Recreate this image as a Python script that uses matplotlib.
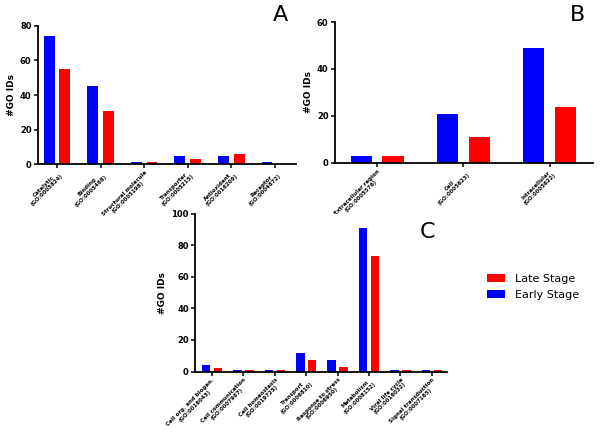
import matplotlib
matplotlib.use('Agg')
import matplotlib.pyplot as plt
import numpy as np
from matplotlib.patches import Patch

# Panel A: molecular function
a_labels = ["Catalytic\n(GO:0003824)", "Binding\n(GO:0005488)",
            "Structural molecule\n(GO:0005198)", "Transporter\n(GO:0005215)",
            "Antioxidant\n(GO:0016209)", "Receptor\n(GO:0004872)"]
a_early = [74, 45, 1, 5, 5, 1]
a_late = [55, 31, 1, 3, 6, 0]

# Panel B: cellular component
b_labels = ["Extracellular region\n(GO:0005576)", "Cell\n(GO:0005623)",
            "Intracellular\n(GO:0005622)"]
b_early = [3, 21, 49]
b_late = [3, 11, 24]

# Panel C: biological process
c_labels = ["Cell org. and biogen.\n(GO:0016043)", "Cell communication\n(GO:0007987)",
            "Cell homeostasis\n(GO:0019725)", "Transport\n(GO:0006810)",
            "Response to stress\n(GO:0006950)", "Metabolism\n(GO:0008152)",
            "Viral life cycle\n(GO:0016032)", "Signal transduction\n(GO:0007165)"]
c_early = [4, 1, 1, 12, 7, 91, 1, 1]
c_late = [2, 1, 1, 7, 3, 73, 1, 1]

BLUE = '#0000ff'
RED = '#ff0000'

fig = plt.figure(figsize=(6, 4.32), dpi=100)


def draw_panel(rect, labels, early, late, ymax, yticks, xlim, width, off, letter, letter_xy):
    ax = fig.add_axes(rect)
    x = np.arange(len(labels))
    ax.bar(x - off, early, width=width, color=BLUE)
    ax.bar(x + off, late, width=width, color=RED)
    ax.set_xlim(*xlim)
    ax.set_ylim(0, ymax)
    ax.set_yticks(yticks)
    ax.set_xticks(x)
    ax.set_xticklabels(labels, rotation=45, ha='right', rotation_mode='anchor',
                       fontsize=4.0, multialignment='center', fontweight='bold',
                       linespacing=1.1)
    for t in ax.get_yticklabels():
        t.set_fontsize(6)
        t.set_fontweight('bold')
    ax.set_ylabel('#GO IDs', fontsize=6.5, fontweight='bold', labelpad=3)
    for s in ['top', 'right']:
        ax.spines[s].set_visible(False)
    for s in ['left', 'bottom']:
        ax.spines[s].set_linewidth(1.3)
    ax.tick_params(direction='out', length=3, width=1.1, pad=1.5)
    ax.tick_params(axis='x', pad=1)
    fig.text(letter_xy[0], letter_xy[1], letter, fontsize=16, ha='center', va='center')
    return ax


draw_panel([0.063, 0.620, 0.430, 0.320], a_labels, a_early, a_late, 80,
           [0, 20, 40, 60, 80], (-0.44, 5.48), 0.25, 0.18, 'A', (0.467, 0.965))
draw_panel([0.558, 0.623, 0.430, 0.326], b_labels, b_early, b_late, 60,
           [0, 20, 40, 60], (-0.49, 2.5), 0.245, 0.185, 'B', (0.963, 0.965))
draw_panel([0.325, 0.140, 0.420, 0.365], c_labels, c_early, c_late, 100,
           [0, 20, 40, 60, 80, 100], (-0.54, 7.48), 0.27, 0.19, 'C', (0.713, 0.463))

handles = [Patch(facecolor=RED, label='Late Stage'),
           Patch(facecolor=BLUE, label='Early Stage')]
fig.legend(handles=handles, loc='center left', bbox_to_anchor=(0.795, 0.336),
           frameon=False, fontsize=8, handlelength=1.6, handleheight=0.8,
           handletextpad=0.9, labelspacing=0.5)

fig.savefig('out.png', dpi=100)
